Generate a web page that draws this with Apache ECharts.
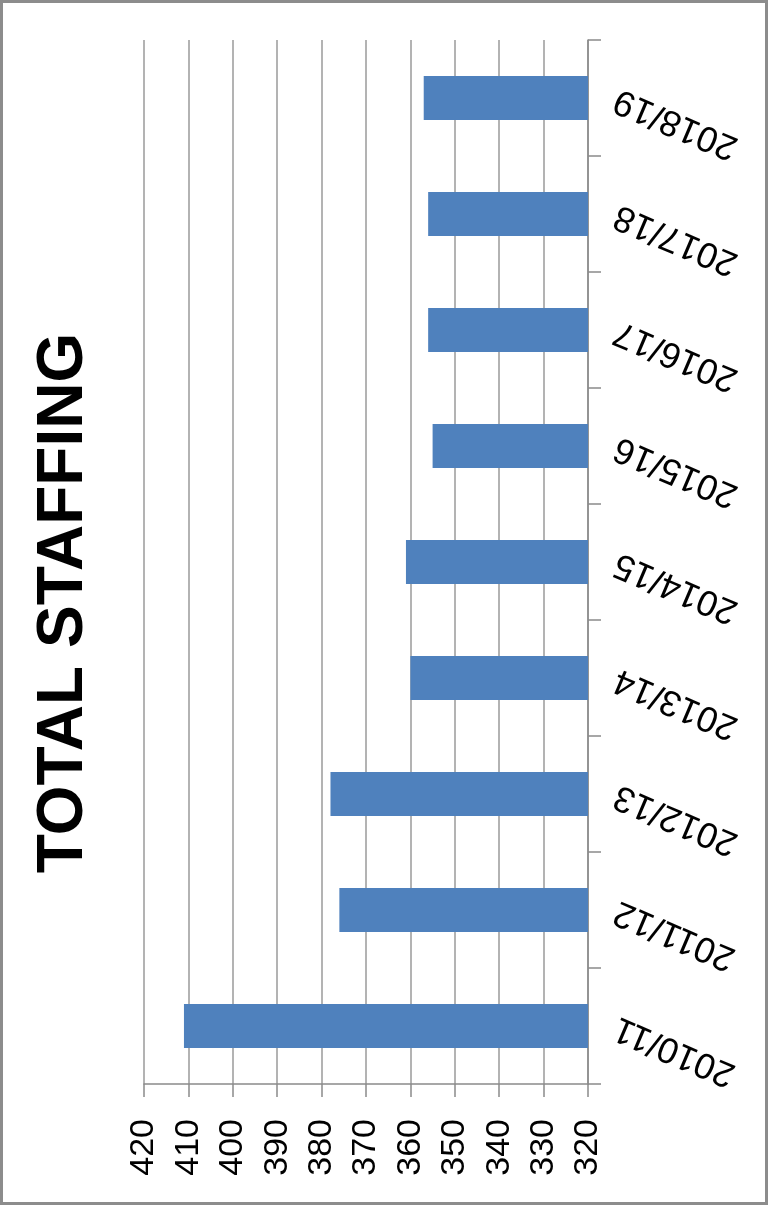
<!DOCTYPE html>
<html>
<head>
<meta charset="utf-8">
<script src="https://cdn.jsdelivr.net/npm/echarts@6/dist/echarts.min.js"></script>
<style>
  html, body { margin: 0; padding: 0; background: #ffffff; }
  #frame {
    width: 768px; height: 1205px; box-sizing: border-box;
    border: 3px solid #8c8c8c; position: relative; overflow: hidden;
  }
  #chart { position: absolute; left: -3px; top: -3px; width: 768px; height: 1205px; }
</style>
</head>
<body>
<div id="frame"><div id="chart"></div></div>
<script>
// Staff totals per financial year
const years = ['2010/11', '2011/12', '2012/13', '2013/14', '2014/15', '2015/16', '2016/17', '2017/18', '2018/19'];
const staffing = [411, 376, 378, 360, 361, 355, 356, 356, 357];

// Value scale
const axisMin = 320;
const axisMax = 420;
const axisStep = 10;

const titleText = 'TOTAL STAFFING';

const fontFamily = '"Liberation Sans", Arial, sans-serif';
const chart = echarts.init(document.getElementById('chart'), null, { renderer: 'canvas' });

chart.setOption({
  animation: false,
  backgroundColor: 'transparent',
  grid: { left: 144, right: 180, top: 40, bottom: 121, containLabel: false },
  xAxis: {
    type: 'value',
    inverse: true,
    position: 'bottom',
    min: axisMin,
    max: axisMax,
    interval: axisStep,
    axisLine: { show: true, lineStyle: { color: '#8a8a8a', width: 1.5 } },
    axisTick: { show: true, length: 13, lineStyle: { color: '#8a8a8a', width: 1.5 } },
    splitLine: { show: true, lineStyle: { color: '#9a9a9a', width: 1.5 } },
    axisLabel: {
      rotate: 90, margin: 35, fontSize: 34, color: '#000000', fontFamily: fontFamily
    }
  },
  yAxis: {
    type: 'category',
    position: 'right',
    data: years,
    boundaryGap: true,
    axisLine: { show: true, lineStyle: { color: '#8a8a8a', width: 1.5 } },
    axisTick: { show: true, length: 13, alignWithLabel: false, lineStyle: { color: '#8a8a8a', width: 1.5 } },
    splitLine: { show: false },
    axisLabel: {
      rotate: 157, margin: 28, fontSize: 36, color: '#000000', fontFamily: fontFamily
    }
  },
  series: [{
    type: 'bar',
    data: staffing,
    barWidth: '38%',
    itemStyle: { color: '#4f81bd' }
  }],
  graphic: [{
    type: 'text',
    x: 64,
    y: 603,
    rotation: Math.PI / 2,
    style: {
      text: titleText,
      fill: '#000000',
      font: 'bold 64px ' + fontFamily,
      textAlign: 'center',
      textVerticalAlign: 'middle'
    }
  }]
});
</script>
</body>
</html>
